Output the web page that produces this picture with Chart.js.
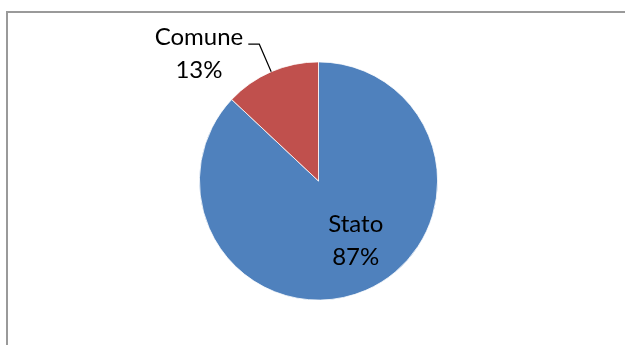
<!DOCTYPE html>
<html>
<head>
<meta charset="utf-8">
<title>Stato / Comune</title>
<script src="https://cdn.jsdelivr.net/npm/chart.js@4"></script>
<style>
  html, body { margin: 0; padding: 0; background: #fff; }
  #wrap { position: relative; width: 625px; height: 345px; overflow: hidden; }
</style>
</head>
<body>
<div id="wrap"><canvas id="pieChart" width="625" height="345"></canvas></div>
<script>
const categories = ['Stato', 'Comune'];
const values = [87, 13];
const sliceColors = ['#4F81BD', '#C0504D'];

// frame around the plot, drawn before everything else
const framePlugin = {
    id: 'frame',
    beforeDraw(chart) {
        const ctx = chart.ctx;
        ctx.save();
        ctx.strokeStyle = '#9a9a9a';
        ctx.lineWidth = 2;
        ctx.strokeRect(7, 12, 700, 400);
        ctx.restore();
    }
};

// category + percentage labels, one inside the big slice, one outside with a leader line
const sliceLabels = {
    id: 'sliceLabels',
    afterDatasetsDraw(chart, args, opts) {
        const ctx = chart.ctx;
        const meta = chart.getDatasetMeta(0);
        const data = chart.data.datasets[0].data;
        const total = data.reduce((a, b) => a + b, 0);
        const lineH = opts.lineHeight;

        ctx.save();
        ctx.font = opts.font;
        ctx.fillStyle = opts.color;
        ctx.textAlign = 'center';
        ctx.textBaseline = 'alphabetic';

        meta.data.forEach((arc, i) => {
            const p = arc.getProps(['x', 'y', 'startAngle', 'endAngle', 'outerRadius'], true);
            const mid = (p.startAngle + p.endAngle) / 2;
            const lines = [chart.data.labels[i], Math.round(data[i] / total * 100) + '%'];
            const place = opts.placement[i];

            if (place.mode === 'inside') {
                const a = mid + place.angleShift;
                const r = p.outerRadius * place.radius;
                const cx = p.x + Math.cos(a) * r;
                const cy = p.y + Math.sin(a) * r;
                const base = cy - lineH / 2 + 8;
                lines.forEach((t, k) => ctx.fillText(t, cx, base + k * lineH));
            } else {
                const x0 = p.x + Math.cos(mid) * p.outerRadius;
                const y0 = p.y + Math.sin(mid) * p.outerRadius;
                const x1 = x0 + Math.cos(mid) * place.leader;
                const y1 = y0 + Math.sin(mid) * place.leader;
                const x2 = x1 - place.tail;
                ctx.beginPath();
                ctx.strokeStyle = '#000';
                ctx.lineWidth = 1.2;
                ctx.moveTo(x0, y0);
                ctx.lineTo(x1, y1);
                ctx.lineTo(x2, y1);
                ctx.stroke();
                const w = Math.max(...lines.map(t => ctx.measureText(t).width));
                const cx = x2 - place.gap - w / 2;
                const base = y1 + 1;
                lines.forEach((t, k) => ctx.fillText(t, cx, base + k * lineH));
            }
        });
        ctx.restore();
    }
};

new Chart(document.getElementById('pieChart'), {
    type: 'pie',
    data: {
        labels: categories,
        datasets: [{
            data: values,
            backgroundColor: sliceColors,
            borderColor: '#ffffff',
            borderWidth: 0.8,
            hoverOffset: 0
        }]
    },
    options: {
        responsive: false,
        animation: false,
        events: [],
        layout: { padding: { top: 61.5, bottom: 44.5, left: 100, right: 88 } },
        plugins: {
            legend: { display: false },
            tooltip: { enabled: false },
            sliceLabels: {
                font: '24px Lato',
                color: '#000',
                lineHeight: 33,
                placement: [
                    { mode: 'inside', radius: 0.59, angleShift: -0.15 },
                    { mode: 'outside', leader: 30, tail: 11, gap: 5 }
                ]
            }
        }
    },
    plugins: [framePlugin, sliceLabels]
});
</script>
</body>
</html>
